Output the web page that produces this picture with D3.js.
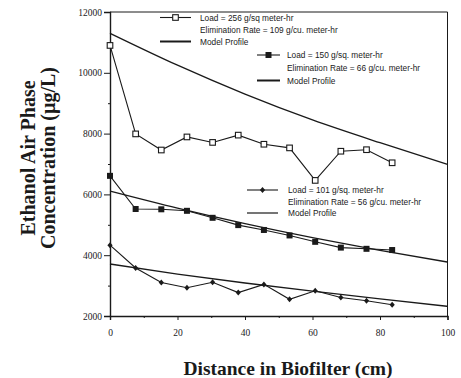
<!DOCTYPE html>
<html>
<head>
<meta charset="utf-8">
<script src="https://cdn.jsdelivr.net/npm/d3@7"></script>
<style>
  html, body { margin: 0; padding: 0; background: #fff; }
  svg { display: block; }
</style>
</head>
<body>
<svg id="chart" width="461" height="378"></svg>
<script>
// Measured positions along the biofilter (cm)
const distance = [0, 7.6, 15.2, 22.8, 30.4, 38, 45.6, 53.2, 60.8, 68.4, 76, 83.6];

// Measured ethanol concentrations (µg/L) for each inlet load
const load256 = [10900, 7990, 7460, 7890, 7710, 7950, 7650, 7530, 6460, 7420, 7470, 7040];
const load150 = [6610, 5520, 5510, 5460, 5230, 4990, 4830, 4650, 4440, 4250, 4210, 4170];
const load101 = [4330, 3580, 3100, 2930, 3110, 2770, 3040, 2550, 2830, 2610, 2500, 2370];

// Model profiles
const modelX = [0, 20, 40, 60, 80, 100];
const model256 = [11300, 10250, 9300, 8450, 7700, 6990];
const model150 = [6110, 5550, 5040, 4580, 4160, 3775];
const model101 = [3710, 3380, 3085, 2815, 2560, 2318];

// Axis ticks
const xTicks = [0, 20, 40, 60, 80, 100];
const xMinorTicks = [10, 30, 50, 70, 90];
const yTicks = [2000, 4000, 6000, 8000, 10000, 12000];
const yMinorTicks = [3000, 5000, 7000, 9000, 11000];

// Legend texts
const legend256 = ["Load = 256 g/sq  meter-hr", "Elimination Rate = 109 g/cu. meter-hr", "Model Profile"];
const legend150 = ["Load = 150 g/sq. meter-hr", "Elimination Rate = 66 g/cu. meter-hr", "Model Profile"];
const legend101 = ["Load = 101 g/sq. meter-hr", "Elimination Rate = 56 g/cu. meter-hr", "Model Profile"];

const svg = d3.select("#chart");
const ink = "#1a1a1a";
const serif = "'Liberation Serif', 'Times New Roman', serif";
const sans = "'Liberation Sans', Arial, sans-serif";

const x = d3.scaleLinear().domain([0, 100]).range([110, 447.5]);
const y = d3.scaleLinear().domain([2000, 12000]).range([316, 12]);

// Frame (top and right edges)
svg.append("path")
  .attr("d", `M${x(0)},${y(12000)}H${x(100)}V${y(2000)}`)
  .attr("fill", "none").attr("stroke", ink).attr("stroke-width", 1);

// X axis
svg.append("g").attr("transform", `translate(0,${y(2000)})`)
  .call(d3.axisBottom(x).tickValues(xTicks).tickSize(4).tickPadding(9).tickFormat(d3.format("d")));
svg.append("g").attr("transform", `translate(0,${y(2000)})`)
  .call(d3.axisBottom(x).tickValues(xMinorTicks).tickSize(2).tickFormat(""))
  .call(g => g.select(".domain").remove());

// Y axis
svg.append("g").attr("transform", `translate(${x(0)},0)`)
  .call(d3.axisLeft(y).tickValues(yTicks).tickSize(6).tickPadding(2).tickFormat(d3.format("d")));
svg.append("g").attr("transform", `translate(${x(0)},0)`)
  .call(d3.axisLeft(y).tickValues(yMinorTicks).tickSize(2).tickFormat(""))
  .call(g => g.select(".domain").remove());

svg.selectAll(".domain").attr("stroke", ink).attr("stroke-width", 1.4);
svg.selectAll(".tick line").attr("stroke", ink).attr("stroke-width", 1);
svg.selectAll(".tick text")
  .attr("font-family", serif).attr("font-size", 9.5).attr("fill", ink);

// Axis titles
svg.append("text")
  .attr("x", 288).attr("y", 375)
  .attr("text-anchor", "middle")
  .attr("font-family", serif).attr("font-weight", "bold").attr("font-size", 19.5)
  .attr("fill", ink)
  .text("Distance in Biofilter (cm)");

const yTitle = svg.append("text")
  .attr("transform", "translate(0,158) rotate(-90)")
  .attr("text-anchor", "middle")
  .attr("font-family", serif).attr("font-weight", "bold").attr("font-size", 20)
  .attr("fill", ink);
yTitle.append("tspan").attr("x", 0).attr("y", 35).text("Ethanol Air Phase");
yTitle.append("tspan").attr("x", 0).attr("y", 55).text("Concentration (\u00b5g/L)");

// Model profile curves
const modelLine = d3.line().x((d, i) => x(modelX[i])).y(d => y(d)).curve(d3.curveMonotoneX);
[model256, model150, model101].forEach(m => {
  svg.append("path").attr("d", modelLine(m))
    .attr("fill", "none").attr("stroke", ink).attr("stroke-width", 1.3);
});

// Measured series
const dataLine = d3.line().x((d, i) => x(distance[i])).y(d => y(d));

function drawSeries(values, marker) {
  svg.append("path").attr("d", dataLine(values))
    .attr("fill", "none").attr("stroke", ink).attr("stroke-width", 1.1);
  values.forEach((v, i) => marker(x(distance[i]), y(v)));
}

function openSquare(cx, cy) {
  svg.append("rect").attr("x", cx - 2.8).attr("y", cy - 2.8).attr("width", 5.6).attr("height", 5.6)
    .attr("fill", "#fff").attr("stroke", ink).attr("stroke-width", 1.1);
}
function filledSquare(cx, cy) {
  svg.append("rect").attr("x", cx - 3).attr("y", cy - 3).attr("width", 6).attr("height", 6)
    .attr("fill", ink);
}
function diamond(cx, cy) {
  svg.append("path").attr("d", `M${cx},${cy - 3}L${cx + 2.6},${cy}L${cx},${cy + 3}L${cx - 2.6},${cy}Z`)
    .attr("fill", ink);
}

drawSeries(load256, openSquare);
drawSeries(load150, filledSquare);
drawSeries(load101, diamond);

// Legend blocks: marker line, two text rows, model-profile line
function legend(x0, x1, textX, rows, texts, marker, modelWidth) {
  const g = svg.append("g");
  g.append("line").attr("x1", x0).attr("x2", x1).attr("y1", rows[0]).attr("y2", rows[0])
    .attr("stroke", ink).attr("stroke-width", 1.1);
  marker((x0 + x1) / 2, rows[0]);
  g.append("line").attr("x1", x0).attr("x2", x1).attr("y1", rows[2]).attr("y2", rows[2])
    .attr("stroke", ink).attr("stroke-width", modelWidth);
  texts.forEach((t, i) => {
    g.append("text").attr("x", textX).attr("y", rows[i] + 3)
      .attr("font-family", sans).attr("font-size", 8.3).attr("fill", ink)
      .text(t);
  });
}

legend(160, 191, 200, [17.5, 29.5, 41.5], legend256, openSquare, 2);
legend(257, 280, 287, [55, 68, 80.5], legend150, filledSquare, 2);
legend(247, 278, 288, [190, 201.7, 213], legend101, diamond, 1.2);
</script>
</body>
</html>
